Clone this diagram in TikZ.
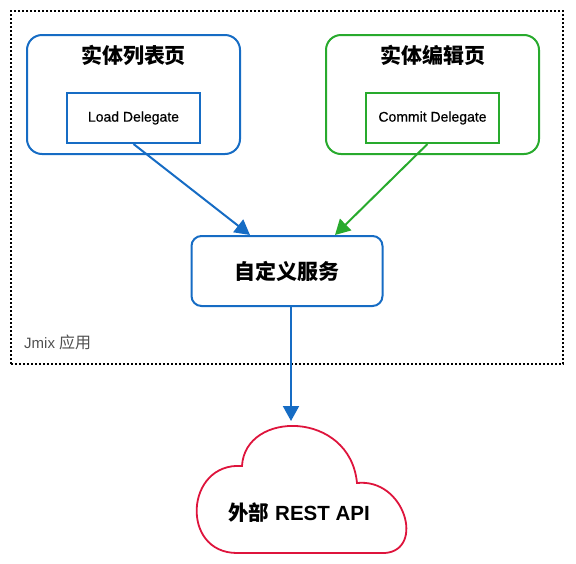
\documentclass[tikz,border=0pt]{standalone}
\usepackage{fontspec}
\setmainfont{Liberation Sans}
\newfontfamily\cjk{Noto Sans CJK SC}
\newfontfamily\medsans{Liberation Sans}[FakeBold=0.5]
\usetikzlibrary{arrows.meta}
\definecolor{sblue}{RGB}{22,108,196}
\definecolor{sgreen}{RGB}{40,170,45}
\definecolor{sred}{RGB}{222,20,60}
\definecolor{sgray}{RGB}{80,80,80}
\tikzset{
  outerbox/.style={draw, line width=2pt, rounded corners=15pt, minimum width=213pt, minimum height=119pt, inner sep=0pt},
  innerbox/.style={draw, line width=2pt, minimum width=133pt, minimum height=50pt, inner sep=0pt, font=\medsans\fontsize{14}{16}\selectfont},
  titletext/.style={font=\cjk\bfseries\fontsize{21}{24}\selectfont, inner sep=0pt},
  conn/.style={line width=2pt, -{Triangle[length=15pt,width=16pt]}},
}
\begin{document}
\begin{tikzpicture}[x=1pt,y=-1pt]
\useasboundingbox (0,0) rectangle (576,563);
% frame
\node[draw, line width=2pt, dash pattern=on 2pt off 2pt, minimum width=552pt, minimum height=353pt, inner sep=0pt] (frame) at (287,187.5) {};
\node[anchor=west, text=sgray, inner sep=0pt, font=\fontsize{15}{18}\selectfont] (applbl) at (24,342) {Jmix {\cjk\fontsize{16}{18}\selectfont 应用}};
% list page
\node[outerbox, sblue] (list) at (133.5,94.5) {};
\node[titletext] (listt) at (133.5,55) {实体列表页};
\node[innerbox, draw=sblue] (in1) at (133.5,118) {Load Delegate};
% edit page
\node[outerbox, sgreen] (edit) at (432.5,94.5) {};
\node[titletext] (editt) at (432.5,55) {实体编辑页};
\node[innerbox, draw=sgreen] (in2) at (432.5,118) {Commit Delegate};
% service
\node[draw=sblue, line width=2pt, rounded corners=10pt, minimum width=191pt, minimum height=70pt, inner sep=0pt, font=\cjk\bfseries\fontsize{21}{24}\selectfont] (svc) at (287,271) {自定义服务};
% cloud
\draw[sred, line width=1.8pt] (237,553) .. controls (180,553) and (185,462) .. (242,466)
  .. controls (245,410) and (350,410) .. (357,483)
  .. controls (405,478) and (425,550) .. (385,553) -- cycle;
\node[inner sep=0pt] (api) at (299,513) {{\cjk\bfseries\fontsize{20.5}{24}\selectfont 外部}\hspace{6pt}{\bfseries\fontsize{20.5}{24}\selectfont REST API}};
\coordinate (cloudtop) at (291,421);
% connectors
\draw[conn, sblue] (in1.south) -- ([xshift=-37pt]svc.north);
\draw[conn, sgreen] ([xshift=-5pt]in2.south) -- ([xshift=48pt]svc.north);
\draw[conn, sblue] ([xshift=4pt]svc.south) -- (cloudtop);
\end{tikzpicture}
\end{document}
